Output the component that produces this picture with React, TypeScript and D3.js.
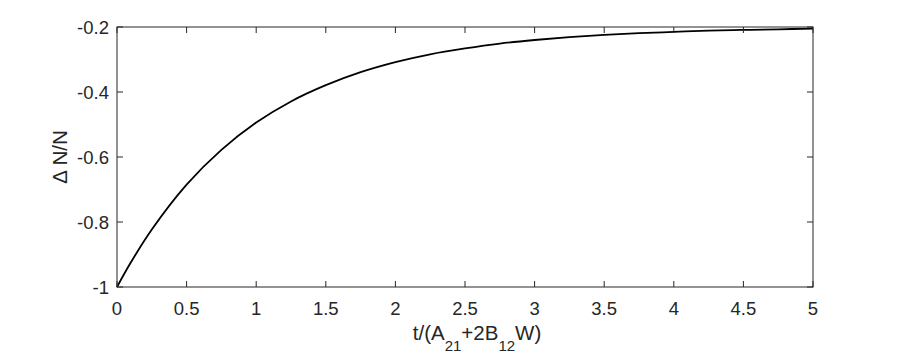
import React from "react";
import * as d3 from "d3";

const tValues = [0, 0.1, 0.25, 0.5, 0.75, 1, 1.25, 1.5, 1.75, 2, 2.25, 2.5, 2.75, 3, 3.25, 3.5, 3.75, 4, 4.25, 4.5, 4.75, 5];
const dnValues = [-1, -0.924, -0.823, -0.685, -0.578, -0.494, -0.429, -0.379, -0.339, -0.308, -0.284, -0.266, -0.251, -0.24, -0.231, -0.224, -0.219, -0.215, -0.211, -0.209, -0.207, -0.205];
const xTicks = [0, 0.5, 1, 1.5, 2, 2.5, 3, 3.5, 4, 4.5, 5];
const yTicks = [-1, -0.8, -0.6, -0.4, -0.2];

const W = 899, H = 356;
const L = 117, R = 813, T = 27, B = 287;
const AX = "#262626";
const FONT = "'Liberation Sans', Arial, Helvetica, sans-serif";

export default function App() {
  const x = d3.scaleLinear().domain([0, 5]).range([L, R]);
  const y = d3.scaleLinear().domain([-1, -0.2]).range([B, T]);
  const pts = tValues.map((t, i) => [t, dnValues[i]] as [number, number]);
  const line = d3.line<[number, number]>().x(d => x(d[0])).y(d => y(d[1])).curve(d3.curveCatmullRom.alpha(0.5));
  const tl = 6;
  const fmt = (v: number) => String(Math.round(v * 10) / 10);
  return (
    <div style={{ position: "absolute", left: 0, top: 0 }}>
      <svg width={W} height={H} style={{ display: "block", background: "#fff" }}>
        <rect x={0} y={0} width={W} height={H} fill="#fff" />
        <path d={line(pts) || ""} fill="none" stroke="#000" strokeWidth={1.8} />
        <rect x={L} y={T} width={R - L} height={B - T} fill="none" stroke={AX} strokeWidth={1} />
        {xTicks.map(v => (
          <g key={"x" + v}>
            <line x1={x(v)} x2={x(v)} y1={B} y2={B - tl} stroke={AX} />
            <line x1={x(v)} x2={x(v)} y1={T} y2={T + tl} stroke={AX} />
            <text x={x(v)} y={315} textAnchor="middle" fontFamily={FONT} fontSize={18.5} fill={AX}>{fmt(v)}</text>
          </g>
        ))}
        {yTicks.map(v => (
          <g key={"y" + v}>
            <line x1={L} x2={L + tl} y1={y(v)} y2={y(v)} stroke={AX} />
            <line x1={R} x2={R - tl} y1={y(v)} y2={y(v)} stroke={AX} />
            <text x={109} y={y(v) + 6.5} textAnchor="end" fontFamily={FONT} fontSize={18.5} fill={AX}>{fmt(v)}</text>
          </g>
        ))}
        <text x={477} y={340} textAnchor="middle" fontFamily={FONT} fontSize={20.5} fill={AX}>
          t/(A<tspan fontSize={15} dy={11}>21</tspan><tspan dy={-11}>+2B</tspan><tspan fontSize={15} dy={11}>12</tspan><tspan dy={-11}>W)</tspan>
        </text>
        <text transform={`translate(67,157) rotate(-90)`} textAnchor="middle" fontFamily={FONT} fontSize={20.5} fill={AX}>Δ N/N</text>
      </svg>
    </div>
  );
}
